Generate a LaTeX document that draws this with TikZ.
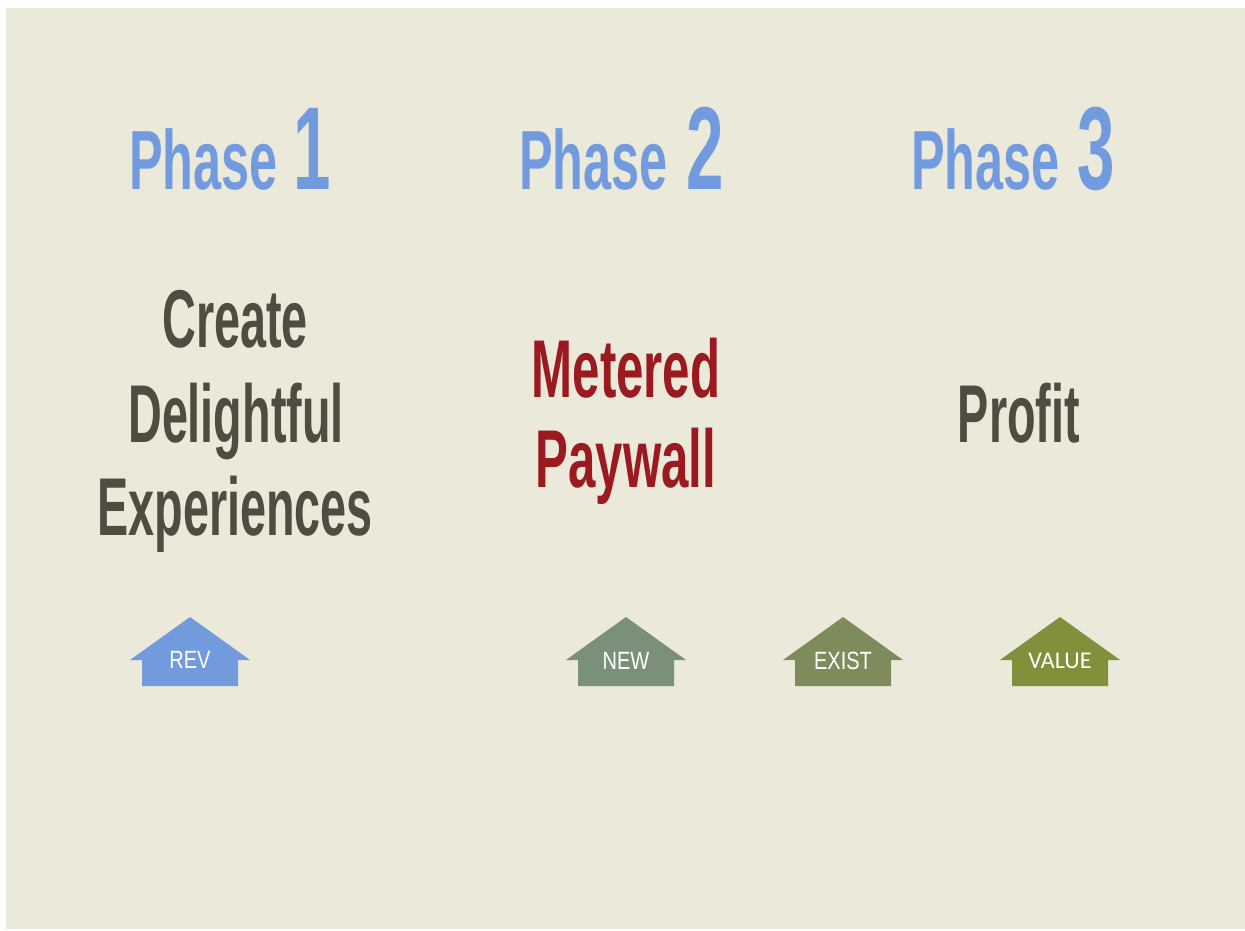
\documentclass[tikz,border=0pt]{standalone}
\usepackage{fontspec}
\setmainfont{Liberation Sans}
\newfontfamily\condfont{Liberation Sans}[FakeStretch=0.57]
\newfontfamily\condwide{Liberation Sans}[FakeStretch=0.6]
\newfontfamily\smallcond{Liberation Sans}[FakeStretch=0.8]
\newfontfamily\calfont{Carlito}
\definecolor{bgbeige}{HTML}{EBE9D9}
\definecolor{phaseblue}{HTML}{729BDF}
\definecolor{darktext}{HTML}{504D40}
\definecolor{redtext}{HTML}{9A1A1F}
\definecolor{revblue}{HTML}{719BDC}
\definecolor{newgreen}{HTML}{7A9079}
\definecolor{existgreen}{HTML}{7E8B5B}
\definecolor{valuegreen}{HTML}{828F3B}
\begin{document}
\begin{tikzpicture}[x=1pt,y=-1pt,
  every node/.style={inner sep=0pt,outer sep=0pt},
  phaseword/.style={anchor=base west,text=phaseblue,font=\condwide\bfseries\fontsize{84}{84}\selectfont},
  phasenum/.style={anchor=base west,text=phaseblue,font=\condfont\bfseries\fontsize{118}{118}\selectfont},
  bigword/.style={anchor=base,text=darktext,font=\condfont\bfseries\fontsize{82}{91}\selectfont},
  redword/.style={anchor=base,text=redtext,font=\condwide\bfseries\fontsize{82}{91}\selectfont},
  houselabel/.style={anchor=base,text=white,font=\smallcond\fontsize{25}{25}\selectfont},
  calabel/.style={anchor=base,text=white,font=\calfont\fontsize{24}{24}\selectfont},
  house/.pic={\fill[#1] (-60,43) -- (0,0) -- (60,43) -- (48,43) -- (48,69) -- (-48,69) -- (-48,43) -- cycle;}
]
\fill[white] (0,0) rectangle (1245,930);
\fill[bgbeige] (6,8) rectangle (1245,929);
\useasboundingbox (0,0) rectangle (1245,930);

% titles
\node[phaseword] (p1w) at (129,189) {Phase};
\node[phasenum]  (p1n) at (293,189) {1};
\node[phaseword] (p2w) at (519,189) {Phase};
\node[phasenum]  (p2n) at (686,189) {2};
\node[phaseword] (p3w) at (911,189) {Phase};
\node[phasenum]  (p3n) at (1077,189) {3};

% column texts
\node[bigword] (c1a) at (235,347) {Create};
\node[bigword] (c1b) at (236,442) {Delightful};
\node[bigword] (c1c) at (235,535) {Experiences};
\node[redword] (c2a) at (626,397) {Metered};
\node[redword] (c2b) at (626,487) {Paywall};
\node[bigword] (c3a) at (1019,442) {Profit};

% houses
\pic at (190,617) {house=revblue};
\pic at (626,617) {house=newgreen};
\pic at (843,617) {house=existgreen};
\pic at (1060,617) {house=valuegreen};
\node[houselabel] (rev) at (190,668) {REV};
\node[houselabel] (new) at (626,669) {NEW};
\node[houselabel] (exist) at (843,669) {EXIST};
\node[calabel] (value) at (1060,668) {VALUE};
\end{tikzpicture}
\end{document}
